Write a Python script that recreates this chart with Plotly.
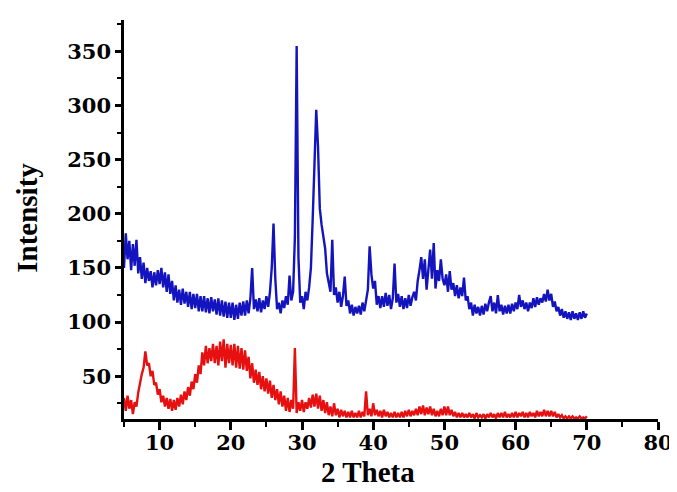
import numpy as np
import plotly.graph_objects as go

# 2-theta sampling grid (degrees) used for both patterns
theta_start = 5.0
theta_step = 0.25

# Upper pattern (blue), 4 per degree starting at 5.0
blue_intensity = [
    150, 182, 158, 175,   # 5
    148, 172, 152, 176,   # 6
    145, 160, 140, 155,   # 7
    136, 150, 138, 147,   # 8
    132, 146, 134, 148,   # 9
    135, 150, 132, 146,   # 10
    128, 144, 126, 138,   # 11
    120, 134, 118, 130,   # 12
    116, 131, 117, 128,   # 13
    114, 128, 112, 126,   # 14
    113, 126, 110, 124,   # 15
    110, 124, 109, 122,   # 16
    108, 123, 110, 121,   # 17
    107, 122, 106, 120,   # 18
    105, 119, 104, 118,   # 19
    104, 118, 102, 116,   # 20
    103, 118, 106, 119,   # 21
    106, 120, 108, 122,   # 22
    150, 112, 121, 110,   # 23
    122, 109, 120, 112,   # 24
    124, 114, 128, 150,   # 25
    191, 140, 112, 118,   # 26
    108, 120, 113, 124,   # 27
    116, 143, 120, 128,   # 28
    178, 355, 160, 118,   # 29
    124, 112, 128, 120,   # 30
    132, 150, 195, 245,   # 31
    296, 262, 205, 190,   # 32
    180, 168, 145, 135,   # 33
    128, 176, 125, 132,   # 34
    118, 128, 114, 124,   # 35
    142, 115, 120, 108,   # 36
    116, 106, 114, 108,   # 37
    115, 107, 118, 110,   # 38
    122, 130, 170, 144,   # 39
    131, 138, 116, 124,   # 40
    113, 124, 114, 127,   # 41
    115, 125, 112, 122,   # 42
    154, 118, 126, 114,   # 43
    124, 112, 122, 113,   # 44
    125, 115, 123, 128,   # 45
    120, 138, 148, 160,   # 46
    140, 158, 130, 150,   # 47
    167, 140, 173, 131,   # 48
    148, 138, 158, 140,   # 49
    134, 144, 128, 147,   # 50
    130, 136, 124, 134,   # 51
    122, 132, 124, 141,   # 52
    120, 124, 112, 118,   # 53
    106, 116, 108, 114,   # 54
    106, 115, 107, 117,   # 55
    110, 118, 124, 110,   # 56
    118, 108, 125, 110,   # 57
    116, 107, 115, 108,   # 58
    116, 108, 117, 110,   # 59
    118, 112, 125, 114,   # 60
    120, 112, 118, 110,   # 61
    118, 113, 122, 114,   # 62
    123, 116, 122, 118,   # 63
    126, 119, 130, 120,   # 64
    126, 114, 119, 110,   # 65
    114, 106, 112, 104,   # 66
    110, 103, 109, 102,   # 67
    110, 103, 108, 102,   # 68
    109, 103, 110, 104,   # 69
    108,                  # 70
]

# Lower pattern (red), 4 per degree starting at 5.0
red_intensity = [
    30, 18, 32, 20,   # 5
    28, 15, 26, 22,   # 6
    35, 44, 52, 58,   # 7
    73, 60, 62, 50,   # 8
    55, 42, 44, 33,   # 9
    38, 26, 32, 22,   # 10
    30, 20, 29, 18,   # 11
    28, 19, 30, 22,   # 12
    33, 24, 36, 28,   # 13
    40, 32, 45, 38,   # 14
    52, 44, 60, 52,   # 15
    72, 60, 78, 62,   # 16
    76, 64, 80, 62,   # 17
    78, 60, 82, 64,   # 18
    84, 58, 80, 62,   # 19
    79, 60, 80, 58,   # 20
    78, 57, 76, 56,   # 21
    74, 55, 68, 48,   # 22
    62, 44, 56, 42,   # 23
    54, 38, 50, 36,   # 24
    48, 34, 46, 30,   # 25
    42, 28, 38, 24,   # 26
    36, 22, 32, 18,   # 27
    30, 17, 28, 20,   # 28
    76, 16, 26, 18,   # 29
    28, 17, 26, 20,   # 30
    30, 21, 33, 22,   # 31
    34, 20, 32, 18,   # 32
    28, 16, 26, 14,   # 33
    22, 13, 25, 14,   # 34
    20, 12, 19, 13,   # 35
    18, 12, 17, 12,   # 36
    18, 12, 16, 12,   # 37
    18, 12, 17, 13,   # 38
    36, 14, 20, 13,   # 39
    25, 14, 19, 13,   # 40
    18, 12, 19, 13,   # 41
    17, 12, 16, 12,   # 42
    17, 12, 16, 12,   # 43
    17, 12, 18, 13,   # 44
    19, 13, 18, 14,   # 45
    20, 14, 22, 15,   # 46
    23, 14, 21, 15,   # 47
    22, 14, 20, 13,   # 48
    18, 13, 20, 14,   # 49
    22, 14, 22, 14,   # 50
    19, 13, 17, 12,   # 51
    16, 12, 16, 12,   # 52
    15, 12, 16, 12,   # 53
    15, 11, 16, 12,   # 54
    14, 12, 15, 11,   # 55
    15, 12, 16, 12,   # 56
    15, 11, 16, 12,   # 57
    16, 12, 17, 12,   # 58
    15, 12, 16, 12,   # 59
    17, 12, 16, 13,   # 60
    17, 12, 16, 12,   # 61
    17, 13, 16, 12,   # 62
    18, 13, 17, 13,   # 63
    19, 13, 18, 13,   # 64
    18, 13, 17, 12,   # 65
    15, 12, 14, 11,   # 66
    13, 11, 13, 11,   # 67
    13, 11, 12, 11,   # 68
    13, 11, 12, 11,   # 69
    13,               # 70
]

x_ticks = [10, 20, 30, 40, 50, 60, 70, 80]
y_ticks = [50, 100, 150, 200, 250, 300, 350]

two_theta = theta_start + theta_step * np.arange(len(blue_intensity))

fig = go.Figure()
fig.add_trace(go.Scatter(x=two_theta, y=red_intensity, mode="lines",
                         line=dict(color="rgb(230,16,16)", width=2.4), showlegend=False))
fig.add_trace(go.Scatter(x=two_theta, y=blue_intensity, mode="lines",
                         line=dict(color="rgb(20,20,190)", width=2.4), showlegend=False))

serif = "Liberation Serif"
tickserif = "DejaVu Serif"
fig.update_layout(
    width=677, height=492,
    margin=dict(l=116, r=15, t=12, b=81),
    paper_bgcolor="white", plot_bgcolor="white",
    showlegend=False,
    font=dict(family=serif, color="black"),
)
fig.update_xaxes(
    range=[5, 80], tickvals=x_ticks, ticktext=[str(v) for v in x_ticks],
    showgrid=False, zeroline=False, showline=True, linecolor="black", linewidth=2.5,
    ticks="outside", ticklen=8, tickwidth=2.5, tickcolor="black",
    tickfont=dict(family=tickserif, size=21, color="black", weight="bold"),
    ticklabelstandoff=-5,
    minor=dict(ticks="outside", ticklen=5, tickwidth=2, tickcolor="black", tick0=5, dtick=10),
)
fig.update_yaxes(
    range=[10.5, 379], tickvals=y_ticks, ticktext=[str(v) for v in y_ticks],
    showgrid=False, zeroline=False, showline=True, linecolor="black", linewidth=2.5,
    ticks="outside", ticklen=6, tickwidth=2.5, tickcolor="black",
    tickfont=dict(family=tickserif, size=21, color="black", weight="bold"),
    minor=dict(ticks="outside", ticklen=4, tickwidth=2, tickcolor="black", tick0=25, dtick=50),
)
fig.add_annotation(text="<b>2 Theta</b>", xref="x", yref="paper", x=39.3, y=-0.132,
                   yanchor="middle", showarrow=False,
                   font=dict(family=serif, size=29, color="black"))
fig.add_annotation(text="<b>Intensity</b>", xref="paper", yref="paper", x=-0.183, y=0.505,
                   xanchor="center", textangle=-90, showarrow=False,
                   font=dict(family=serif, size=29, color="black"))

fig.write_html("out.html")
